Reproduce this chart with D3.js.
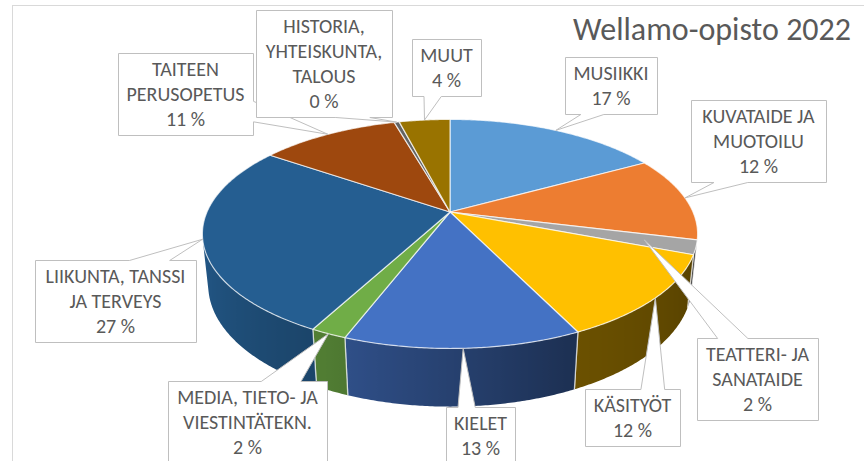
<!DOCTYPE html>
<html>
<head>
<meta charset="utf-8">
<script src="https://cdn.jsdelivr.net/npm/d3@7"></script>
<style>
body { margin: 0; background: #fff; }
</style>
</head>
<body>
<script>
// data
var title = "Wellamo-opisto 2022";
var categories = ["MUSIIKKI", "KUVATAIDE JA MUOTOILU", "TEATTERI- JA SANATAIDE", "KÄSITYÖT", "KIELET",
	"MEDIA, TIETO- JA VIESTINTÄTEKN.", "LIIKUNTA, TANSSI JA TERVEYS", "TAITEEN PERUSOPETUS",
	"HISTORIA, YHTEISKUNTA, TALOUS", "MUUT"];
var shares = [17, 12, 2, 12, 13, 2, 27, 11, 0.4, 4];
var colors = ["#5B9BD5", "#ED7D31", "#A5A5A5", "#FFC000", "#4472C4", "#70AD47", "#255E91", "#9E480E", "#636363", "#997300"];

// callout boxes: left, top, width ; tip radius on the slice
var boxes = [
	[565, 57, 92], [691, 100, 135], [697, 338, 121], [585, 389, 95], [446, 407, 69],
	[168, 381, 159], [35, 260, 161], [118, 53, 135], [256, 10, 136], [412, 39, 69]
];
var tipRadius = [1, 1, 0.8, 1, 1, 1, 1, 1, 1, 1];

var width = 864, height = 461;
var centerX = 450, centerY = 212;
var focal = 1130, camDist = 4.65;
var tilt = 27 * Math.PI / 180;
var depth = 0.238;
var sinT = Math.sin(tilt), cosT = Math.cos(tilt);

var svg = d3.select("body").append("svg")
	.attr("width", width)
	.attr("height", height);
var defs = svg.append("defs");

svg.append("rect")
	.attr("x", 12.5).attr("y", 5.5)
	.attr("width", 880).attr("height", 480)
	.attr("fill", "#fff")
	.attr("stroke", "#D9D9D9");

// perspective projection of a point on the unit disk (angle clockwise from back), height y
function project(theta, y, r) {
	r = r === undefined ? 1 : r;
	var x = r * Math.sin(theta), z = -r * Math.cos(theta);
	var yr = y * cosT - z * sinT;
	var zr = y * sinT + z * cosT;
	var k = focal / (camDist - zr);
	return [centerX + x * k, centerY - yr * k];
}

var pie = d3.pie().sort(null).value(function(d) { return d; });
var arcs = pie(shares);
var total = d3.sum(shares);
var line = d3.line();

var light = d3.scaleLinear()
	.domain([104, 155, 205, 256])
	.range([0.33, 0.42, 0.72, 0.93])
	.clamp(true);

function shade(c, f) {
	var rgb = d3.rgb(c);
	return d3.rgb(rgb.r * f, rgb.g * f, rgb.b * f).formatHex();
}

// walls (front facing part only)
var thetaVis = Math.acos(-1 / (camDist * cosT));
var walls = svg.append("g");
arcs.forEach(function(d, i) {
	var a0 = Math.max(d.startAngle, thetaVis);
	var a1 = Math.min(d.endAngle, 2 * Math.PI - thetaVis);
	if (a1 <= a0) return;
	var n = Math.max(2, Math.ceil((a1 - a0) / (0.5 * Math.PI / 180)));
	var topPts = [], botPts = [], angles = [];
	for (var j = 0; j <= n; j++) {
		var t = a0 + (a1 - a0) * j / n;
		angles.push(t);
		topPts.push(project(t, 0));
		botPts.push(project(t, -depth));
	}
	var xs = topPts.map(function(p) { return p[0]; });
	var xMin = d3.min(xs), xMax = d3.max(xs);
	var grad = defs.append("linearGradient")
		.attr("id", "wall" + i)
		.attr("gradientUnits", "userSpaceOnUse")
		.attr("x1", xMin).attr("x2", xMax)
		.attr("y1", 0).attr("y2", 0);
	var stops = angles.map(function(t, j) {
		return { off: (xs[j] - xMin) / Math.max(1e-6, xMax - xMin), col: shade(colors[i], light(t * 180 / Math.PI)) };
	}).sort(function(a, b) { return a.off - b.off; });
	stops.forEach(function(s) {
		grad.append("stop").attr("offset", s.off).attr("stop-color", s.col);
	});
	walls.append("path")
		.attr("d", line(topPts.concat(botPts.reverse())) + "Z")
		.attr("fill", "url(#wall" + i + ")");
	// light edges at the slice boundaries
	[d.startAngle, d.endAngle].forEach(function(t) {
		if (t >= thetaVis && t <= 2 * Math.PI - thetaVis) {
			walls.append("path")
				.attr("d", line([project(t, 0), project(t, -depth)]))
				.attr("stroke", "rgba(255,255,255,0.6)")
				.attr("stroke-width", 1.3);
		}
	});
});

// tops
var tops = svg.append("g");
arcs.forEach(function(d, i) {
	var pts = [project(0, 0, 0)];
	var n = Math.max(2, Math.ceil((d.endAngle - d.startAngle) / (0.5 * Math.PI / 180)));
	for (var j = 0; j <= n; j++) {
		pts.push(project(d.startAngle + (d.endAngle - d.startAngle) * j / n, 0));
	}
	tops.append("path")
		.attr("d", line(pts) + "Z")
		.attr("fill", colors[i])
		.attr("stroke", "rgba(255,255,255,0.7)")
		.attr("stroke-width", 1.2)
		.attr("stroke-linejoin", "round");
});

// callout shape (rectangle with wedge, like office wedgeRectCallout)
function calloutPath(x, y, w, h, tx, ty) {
	var hc = x + w / 2, vc = y + h / 2;
	var dx = tx - hc, dy = ty - vc;
	var dq = dx * h / w;
	var vertical = Math.abs(dy) > Math.abs(dq);
	var xa = x + w * (dx > 0 ? 7 : 2) / 12, xb = x + w * (dx > 0 ? 10 : 5) / 12;
	var ya = y + h * (dy > 0 ? 7 : 2) / 12, yb = y + h * (dy > 0 ? 10 : 5) / 12;
	var p = [[x, y]];
	if (vertical && dy < 0) p.push([xa, y], [tx, ty], [xb, y]);
	p.push([x + w, y]);
	if (!vertical && dx > 0) p.push([x + w, ya], [tx, ty], [x + w, yb]);
	p.push([x + w, y + h]);
	if (vertical && dy > 0) p.push([xb, y + h], [tx, ty], [xa, y + h]);
	p.push([x, y + h]);
	if (!vertical && dx < 0) p.push([x, yb], [tx, ty], [x, ya]);
	return line(p) + "Z";
}

var fontFamily = "Carlito, Calibri, Lato, sans-serif";
var fontSize = 20, lineGap = 25;

var labels = svg.append("g");
arcs.forEach(function(d, i) {
	var b = boxes[i];
	var mid = (d.startAngle + d.endAngle) / 2;
	var tip = project(mid, 0, tipRadius[i]);
	var g = labels.append("g");
	var shape = g.append("path");
	var txt = g.append("text")
		.attr("font-family", fontFamily)
		.attr("font-size", fontSize)
		.attr("fill", "#595959")
		.attr("text-anchor", "middle");

	// word wrap inside the box
	var words = categories[i].split(" ");
	var lines = [], cur = "";
	var probe = txt.append("tspan");
	words.forEach(function(w) {
		var test = cur ? cur + " " + w : w;
		probe.text(test);
		if (cur && probe.node().getComputedTextLength() > b[2] - 8) {
			lines.push(cur);
			cur = w;
		} else {
			cur = test;
		}
	});
	lines.push(cur);
	probe.remove();
	lines.push(Math.round(shares[i] / total * 100) + " %");

	var h = 7 + lineGap * lines.length;
	shape.attr("d", calloutPath(b[0] + 0.5, b[1] + 0.5, b[2], h, tip[0], tip[1]))
		.attr("fill", "#fff")
		.attr("stroke", "#BFBFBF")
		.attr("stroke-width", 1);

	var first = b[1] + h / 2 - (lines.length - 1) * lineGap / 2 + 6.5;
	lines.forEach(function(l, k) {
		txt.append("tspan")
			.attr("x", b[0] + b[2] / 2)
			.attr("y", first + k * lineGap)
			.text(l);
	});
});

svg.append("text")
	.attr("x", 851)
	.attr("y", 40)
	.attr("text-anchor", "end")
	.attr("font-family", fontFamily)
	.attr("font-size", 32)
	.attr("fill", "#595959")
	.text(title);
</script>
</body>
</html>
